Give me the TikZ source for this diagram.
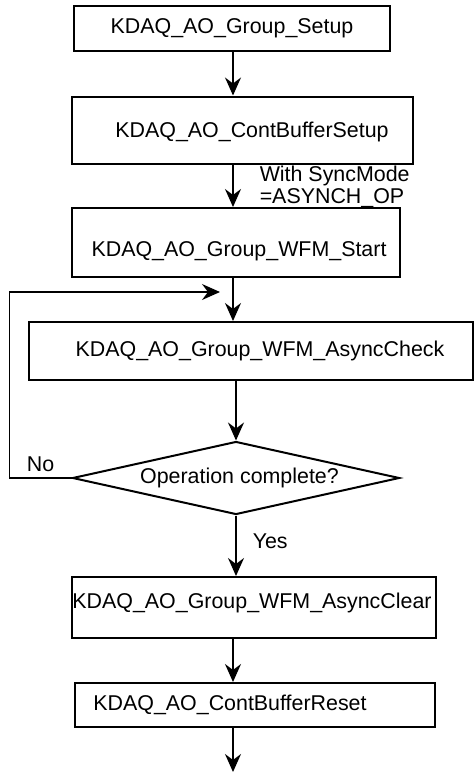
\documentclass[tikz,border=0pt]{standalone}
\usepackage{fontspec}
\setmainfont{Liberation Sans}
\usetikzlibrary{arrows.meta, shapes.geometric}
\newcommand{\boxfont}{\fontsize{10.7}{11}\selectfont}
\tikzset{
  procbox/.style={draw, line width=1pt, inner sep=0pt, font=\boxfont},
  boxtext/.style={inner sep=0pt, font=\boxfont},
  decbox/.style={diamond, draw, line width=1pt, inner sep=0pt, aspect=4.5, font=\boxfont},
  flow/.style={line width=0.75pt, -{Stealth[length=9pt, width=8pt, inset=3pt]}},
  flowlabel/.style={font=\boxfont, inner sep=0pt, align=left}
}
\begin{document}
\begin{tikzpicture}[x=0.5pt, y=-0.5pt]
\useasboundingbox (0,0) rectangle (474,772);
% main column of the flow
\coordinate (spine) at (233,0);
\node[procbox, minimum width=158pt, minimum height=22.5pt] (grpsetup) at (232,28.5) {KDAQ\_AO\_Group\_Setup};
\node[procbox, minimum width=170.5pt, minimum height=33.5pt,
  label={[boxtext, xshift=4.75pt, yshift=-1pt]center:KDAQ\_AO\_ContBufferSetup}] (bufsetup) at (242.5,130) {};
\node[procbox, minimum width=164pt, minimum height=34.5pt,
  label={[boxtext, xshift=1.5pt, yshift=-4.25pt]center:KDAQ\_AO\_Group\_WFM\_Start}] (wfmstart) at (236,242.5) {};
\node[procbox, minimum width=222pt, minimum height=29pt,
  label={[boxtext, xshift=4.5pt]center:KDAQ\_AO\_Group\_WFM\_AsyncCheck}] (asynccheck) at (251,351) {};
\node[decbox, minimum width=163.5pt, minimum height=36.5pt,
  label={[boxtext, xshift=1.75pt]center:Operation complete?}] (opdone) at (236,478) {};
\node[procbox, minimum width=182pt, minimum height=30.5pt,
  label={[boxtext, xshift=-1pt, yshift=2.25pt]center:KDAQ\_AO\_Group\_WFM\_AsyncClear}] (asyncclear) at (254,607.5) {};
\node[procbox, minimum width=180pt, minimum height=22pt,
  label={[boxtext, xshift=-12.5pt]center:KDAQ\_AO\_ContBufferReset}] (bufreset) at (255,705) {};
\coordinate (loopin) at (220,292);
\coordinate (flowend) at (233,772);
% connectors
\draw[flow] (grpsetup.south -| spine) -- (bufsetup.north -| spine);
\draw[flow] (bufsetup.south -| spine) -- (wfmstart.north -| spine)
  node[midway, flowlabel, anchor=west, xshift=13pt, yshift=-0.5pt] {With SyncMode\\=ASYNCH\_OP};
\draw[flow] (wfmstart.south -| spine) -- (asynccheck.north -| spine);
\draw[flow] (asynccheck.south -| opdone) -- (opdone.north);
\draw[flow] (opdone.west) -- ++(-62,0) node[midway, above, font=\boxfont, inner sep=3pt] {No} |- (loopin);
\draw[flow] (opdone.south) -- (opdone.south |- asyncclear.north)
  node[midway, flowlabel, anchor=west, xshift=8pt, yshift=2.5pt] {Yes};
\draw[flow] (asyncclear.south -| spine) -- (bufreset.north -| spine);
\draw[flow] (bufreset.south -| spine) -- (flowend);
\end{tikzpicture}
\end{document}
